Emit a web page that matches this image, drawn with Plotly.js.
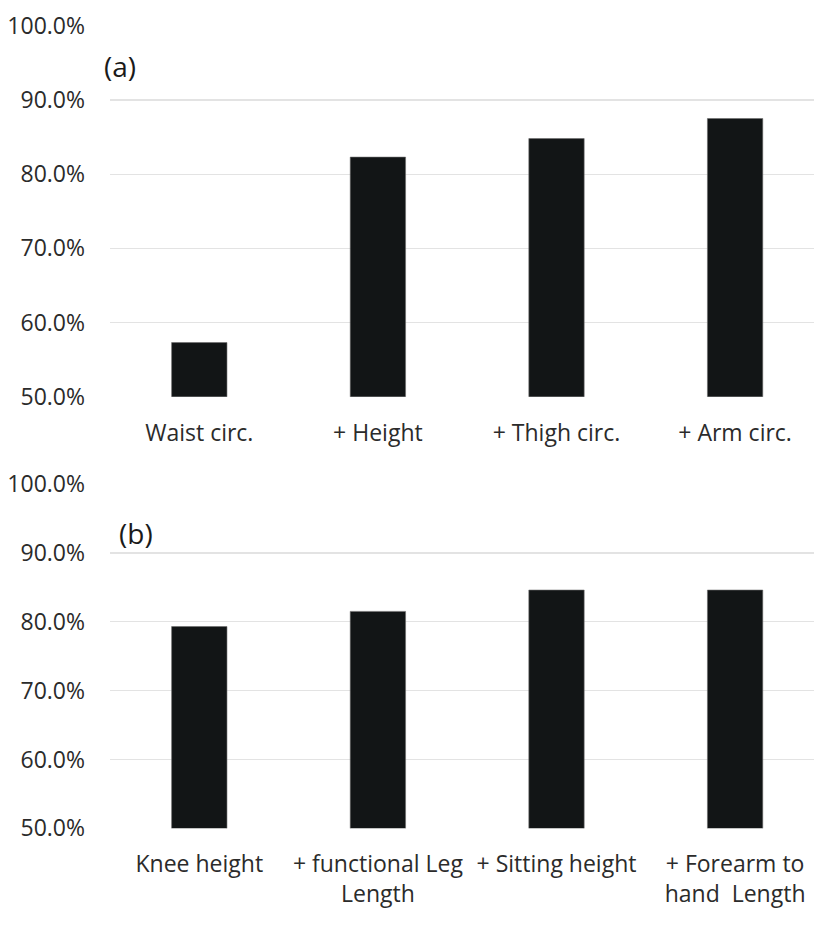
<!DOCTYPE html>
<html>
<head>
<meta charset="utf-8">
<script src="https://cdn.plot.ly/plotly-3.0.1.min.js"></script>
<style>html,body{margin:0;padding:0;background:#fff;}#chart{width:814px;height:927px;}</style>
</head>
<body>
<div id="chart"></div>
<script>
// Panel (a)
const categoriesA = ["Waist circ.", "+ Height", "+ Thigh circ.", "+ Arm circ."];
const valuesA = [57.3, 82.3, 84.8, 87.5];
// Panel (b)
const categoriesB = ["Knee height", "+ functional Leg<br>Length", "+ Sitting height", "+ Forearm to<br>hand\u00a0 Length"];
const valuesB = [79.3, 81.5, 84.6, 84.6];
const panelLabels = ["(a)", "(b)"];
const yTicks = [50, 60, 70, 80, 90, 100];
const yTickText = ["50.0%", "60.0%", "70.0%", "80.0%", "90.0%", "100.0%"];

const W = 814, H = 927;
const FONT = "Open Sans, Noto Sans, sans-serif";
const barStyle = {color: "#121516", line: {color: "#6b6b6b", width: 0.6}};

const traces = [
  {type: "bar", x: categoriesA, y: valuesA, xaxis: "x", yaxis: "y", width: 0.31, marker: barStyle, hoverinfo: "none"},
  {type: "bar", x: categoriesB, y: valuesB, xaxis: "x2", yaxis: "y2", width: 0.31, marker: barStyle, hoverinfo: "none"}
];

const xDomain = [110 / W, 1];
const xRange = [-0.5, -0.5 + (W - 110) / 178.6];

function yAxis(dom) {
  return {
    domain: dom, range: [50, 100], tickmode: "array", tickvals: yTicks, ticktext: yTickText,
    showgrid: true, gridcolor: "#e3e3e3", gridwidth: 1.3, zeroline: false, showline: false,
    ticks: "", ticklabelstandoff: 24, automargin: false,
    tickfont: {family: FONT, size: 23, color: "#2b2b2b"}, fixedrange: true
  };
}
function xAxis(anchor) {
  return {
    domain: xDomain, range: xRange, anchor: anchor, type: "category",
    showgrid: false, zeroline: false, showline: false, ticks: "", automargin: false,
    ticklabelstandoff: 20,
    tickfont: {family: FONT, size: 23, color: "#2b2b2b"}, fixedrange: true
  };
}

const layout = {
  width: W, height: H,
  margin: {l: 0, r: 0, t: 0, b: 0, pad: 0},
  paper_bgcolor: "#ffffff", plot_bgcolor: "#ffffff",
  showlegend: false, bargap: 0.69,
  xaxis: xAxis("y"),
  yaxis: yAxis([1 - 396.7 / H, 1 - 25.8 / H]),
  xaxis2: xAxis("y2"),
  yaxis2: yAxis([1 - 828.3 / H, 1 - 484 / H]),
  annotations: [
    {text: panelLabels[0], xref: "paper", yref: "paper", x: 119.5 / W, y: 1 - 66 / H, xanchor: "center", yanchor: "middle", showarrow: false, font: {family: FONT, size: 28, color: "#1a1a1a"}},
    {text: panelLabels[1], xref: "paper", yref: "paper", x: 136 / W, y: 1 - 533 / H, xanchor: "center", yanchor: "middle", showarrow: false, font: {family: FONT, size: 28, color: "#1a1a1a"}}
  ]
};

Plotly.newPlot("chart", traces, layout, {displayModeBar: false, staticPlot: true});
</script>
</body>
</html>
